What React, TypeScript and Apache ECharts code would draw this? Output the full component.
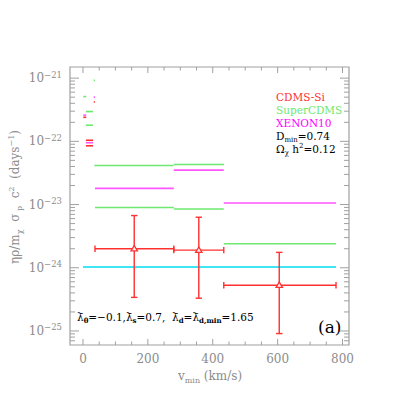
import React, { useEffect, useRef } from 'react';
import * as echarts from 'echarts';

// ---- axis ranges / ticks (physical units, days^-1) ----
const xRange = [-40, 820];
const yRange = [6e-26, 1.5e-21];
const xMajorTicks = [0, 200, 400, 600, 800];
const xMinorTicks = [50, 100, 150, 250, 300, 350, 450, 500, 550, 650, 700, 750];
const yDecadeExps = [-26, -25, -24, -23, -22, -21];
const yMinorMultipliers = [2, 3, 4, 5, 6, 7, 8, 9];

// ---- data ----
// CDMS-Si points: [vmin center, value, bin lo, bin hi, err lo, err hi]
const cdmsSiPoints = [
  [158, 2.0e-24, 37, 280, 3.4e-25, 6.7e-24],
  [357, 1.9e-24, 280, 434, 3.3e-25, 6.3e-24],
  [605, 5.3e-25, 434, 780, 9.1e-26, 1.75e-24],
];
// horizontal bin limits: [vmin lo, vmin hi, value]
const cdmsSiBins = [
  [33, 37, 4.2e-22],
  [1, 10, 2.4e-22],
  [9, 31, 1.04e-22],
  [9, 31, 8.5e-23],
];
const superCdmsBins = [
  [37, 280, 9.0e-24],
  [280, 434, 8.5e-24],
  [434, 780, 2.4e-24],
  [35, 279, 4.15e-23],
  [280, 435, 4.3e-23],
  [33, 37, 9.2e-22],
  [1, 10, 5.1e-22],
  [9, 31, 2.96e-22],
  [9, 31, 1.8e-22],
];
const xenon10Bins = [
  [37, 280, 1.8e-23],
  [280, 434, 3.5e-23],
  [434, 780, 1.06e-23],
  [33, 37, 5.0e-22],
  [1, 10, 2.6e-22],
  [9, 31, 9.5e-23],
];
const haloLine = [[0, 780, 1.03e-24]];

// ECharts' log scale loses precision for numbers this small, so values are
// handed to the axis in units of 1e-26 days^-1 and labels are converted back.
const UNIT_EXP = 26;
const U = Math.pow(10, UNIT_EXP);

const RED = '#ff3030';
const GREEN = '#6ee86e';
const MAGENTA = '#ff55ff';
const CYAN = '#00dcf0';
const GRAY = '#8c8c8c';
const FRAME = '#a0a0a0';
const SERIF = '"DejaVu Serif", serif';

function segSeries(name: string, data: number[][], color: string, width: number) {
  return {
    type: 'custom',
    name,
    silent: true,
    encode: { x: [0, 1], y: 2 },
    data: data.map((d) => [d[0], d[1], d[2] * U]),
    renderItem: (params: any, api: any) => {
      const p0 = api.coord([api.value(0), api.value(2)]);
      const p1 = api.coord([api.value(1), api.value(2)]);
      return {
        type: 'line',
        shape: { x1: p0[0], y1: p0[1], x2: p1[0], y2: p1[1] },
        style: { stroke: color, lineWidth: width },
      };
    },
  };
}

export default function App() {
  const ref = useRef<HTMLDivElement>(null);
  useEffect(() => {
    if (!ref.current) return;
    const chart = echarts.init(ref.current, undefined, { renderer: 'svg' });

    const yTickData: number[][] = [];
    yDecadeExps.forEach((e) => {
      const d = Math.pow(10, e);
      if (d > yRange[0] * 1.001 && d < yRange[1] * 0.999) yTickData.push([300, d * U, 9]);
      yMinorMultipliers.forEach((m) => {
        const v = m * d;
        if (v > yRange[0] * 1.001 && v < yRange[1] * 0.999) yTickData.push([300, v * U, 5]);
      });
    });
    const xTickData: number[][] = [
      ...xMajorTicks.map((v) => [v, 100, 6]),
      ...xMinorTicks.map((v) => [v, 100, 3.5]),
    ];

    const option: any = {
      animation: false,
      grid: {
        left: 70,
        right: 66,
        top: 67,
        bottom: 70,
        show: true,
        borderColor: FRAME,
        borderWidth: 1.2,
        backgroundColor: 'transparent',
        containLabel: false,
        outerBoundsMode: 'none',
      },
      xAxis: {
        type: 'value',
        min: xRange[0],
        max: xRange[1],
        axisLine: { show: false },
        axisTick: { show: false },
        splitLine: { show: false },
        axisLabel: {
          margin: 8,
          color: GRAY,
          fontFamily: SERIF,
          fontSize: 12,
          formatter: (v: number) => (Math.abs(v % 200) < 1e-6 && v >= 0 ? String(v) : ''),
        },
      },
      yAxis: {
        type: 'log',
        logBase: 10,
        min: yRange[0] * U,
        max: yRange[1] * U,
        axisLine: { show: false },
        axisTick: { show: false },
        splitLine: { show: false },
        axisLabel: {
          margin: 8,
          formatter: (v: number) => {
            const e = Math.log10(v);
            if (Math.abs(e - Math.round(e)) > 1e-6) return '';
            const ex = Math.round(e) - UNIT_EXP;
            return '{b|10}{s|' + (ex < 0 ? '\u2212' : '') + Math.abs(ex) + '}';
          },
          rich: {
            b: { fontFamily: SERIF, fontSize: 12, color: GRAY, lineHeight: 16 },
            s: { fontFamily: SERIF, fontSize: 8.5, color: GRAY, lineHeight: 9, verticalAlign: 'top' },
          },
        },
      },
      series: [
        {
          type: 'custom',
          silent: true,
          encode: { x: 0, y: 1 },
          data: yTickData,
          renderItem: (params: any, api: any) => {
            const cs = params.coordSys;
            const p = api.coord([api.value(0), api.value(1)]);
            const len = api.value(2);
            return {
              type: 'group',
              children: [
                { type: 'line', shape: { x1: cs.x, y1: p[1], x2: cs.x + len, y2: p[1] }, style: { stroke: FRAME, lineWidth: 1 } },
                { type: 'line', shape: { x1: cs.x + cs.width - len, y1: p[1], x2: cs.x + cs.width, y2: p[1] }, style: { stroke: FRAME, lineWidth: 1 } },
              ],
            };
          },
        },
        {
          type: 'custom',
          silent: true,
          encode: { x: 0, y: 1 },
          data: xTickData,
          renderItem: (params: any, api: any) => {
            const cs = params.coordSys;
            const p = api.coord([api.value(0), api.value(1)]);
            const len = api.value(2);
            return {
              type: 'group',
              children: [
                { type: 'line', shape: { x1: p[0], y1: cs.y + cs.height - len, x2: p[0], y2: cs.y + cs.height }, style: { stroke: FRAME, lineWidth: 1 } },
                { type: 'line', shape: { x1: p[0], y1: cs.y, x2: p[0], y2: cs.y + len }, style: { stroke: FRAME, lineWidth: 1 } },
              ],
            };
          },
        },
        segSeries('halo', haloLine, CYAN, 1.5),
        segSeries('SuperCDMS', superCdmsBins, GREEN, 1.6),
        segSeries('XENON10', xenon10Bins, MAGENTA, 1.6),
        segSeries('CDMS-Si bins', cdmsSiBins, RED, 1.6),
        {
          type: 'custom',
          name: 'CDMS-Si',
          silent: true,
          encode: { x: [0, 2, 3], y: [1, 4, 5] },
          data: cdmsSiPoints.map((d) => [d[0], d[1] * U, d[2], d[3], d[4] * U, d[5] * U]),
          renderItem: (params: any, api: any) => {
            const c = api.coord([api.value(0), api.value(1)]);
            const l = api.coord([api.value(2), api.value(1)]);
            const r = api.coord([api.value(3), api.value(1)]);
            const lo = api.coord([api.value(0), api.value(4)]);
            const hi = api.coord([api.value(0), api.value(5)]);
            const st = { stroke: RED, lineWidth: 1.4 };
            const cap = 3.2;
            return {
              type: 'group',
              children: [
                { type: 'line', shape: { x1: l[0], y1: l[1], x2: r[0], y2: r[1] }, style: st },
                { type: 'line', shape: { x1: l[0], y1: l[1] - cap, x2: l[0], y2: l[1] + cap }, style: st },
                { type: 'line', shape: { x1: r[0], y1: r[1] - cap, x2: r[0], y2: r[1] + cap }, style: st },
                { type: 'line', shape: { x1: c[0], y1: lo[1], x2: c[0], y2: hi[1] }, style: st },
                { type: 'line', shape: { x1: c[0] - cap, y1: lo[1], x2: c[0] + cap, y2: lo[1] }, style: st },
                { type: 'line', shape: { x1: c[0] - cap, y1: hi[1], x2: c[0] + cap, y2: hi[1] }, style: st },
                {
                  type: 'polygon',
                  shape: { points: [[c[0] - 3.2, c[1] + 2.2], [c[0] + 3.2, c[1] + 2.2], [c[0], c[1] - 3.2]] },
                  style: { stroke: RED, lineWidth: 1.3, fill: 'rgba(255,255,255,0.9)' },
                },
              ],
            };
          },
        },
      ],
      graphic: [
        { type: 'text', x: 276, y: 97, style: { text: 'CDMS-Si', fill: RED, fontFamily: SERIF, fontSize: 10.5, align: 'left', verticalAlign: 'middle' } },
        { type: 'text', x: 276, y: 110, style: { text: 'SuperCDMS', fill: GREEN, fontFamily: SERIF, fontSize: 10.5, align: 'left', verticalAlign: 'middle' } },
        { type: 'text', x: 276, y: 123, style: { text: 'XENON10', fill: '#ff00ff', fontFamily: SERIF, fontSize: 10.5, align: 'left', verticalAlign: 'middle' } },
        {
          type: 'text', x: 276, y: 136,
          style: {
            text: '{b|D}{s|min}{b|=0.74}', align: 'left', verticalAlign: 'middle',
            rich: {
              b: { fill: '#000', fontFamily: SERIF, fontSize: 10.5, lineHeight: 14 },
              s: { fill: '#000', fontFamily: SERIF, fontSize: 7, lineHeight: 7, verticalAlign: 'bottom' },
            },
          },
        },
        {
          type: 'text', x: 276, y: 149,
          style: {
            text: '{b|\u03A9}{s|\u03C7}{b| h}{p|2}{b|=0.12}', align: 'left', verticalAlign: 'middle',
            rich: {
              b: { fill: '#000', fontFamily: SERIF, fontSize: 10.5, lineHeight: 14 },
              s: { fill: '#000', fontFamily: SERIF, fontSize: 7, lineHeight: 7, verticalAlign: 'bottom' },
              p: { fill: '#000', fontFamily: SERIF, fontSize: 7, lineHeight: 7, verticalAlign: 'top' },
            },
          },
        },
        {
          type: 'text', x: 77, y: 317,
          style: {
            text: '{b|\u03BB\u0304}{s|\u03B8}{b|=\u22120.1,\u03BB\u0304}{s|s}{b|=0.7,  \u03BB\u0304}{s|d}{b|=\u03BB\u0304}{s|d,min}{b|=1.65}',
            align: 'left', verticalAlign: 'middle',
            rich: {
              b: { fill: '#000', fontFamily: SERIF, fontSize: 10.5, lineHeight: 14 },
              s: { fill: '#000', fontFamily: SERIF, fontSize: 7, lineHeight: 7, verticalAlign: 'bottom', fontWeight: 'bold' },
            },
          },
        },
        { type: 'text', x: 318, y: 327, style: { text: '(a)', fill: '#000', fontFamily: SERIF, fontSize: 17, align: 'left', verticalAlign: 'middle' } },
        {
          type: 'text', x: 210, y: 376,
          style: {
            text: '{b|v}{s|min}{b| (km/s)}', align: 'center', verticalAlign: 'middle',
            rich: {
              b: { fill: GRAY, fontFamily: SERIF, fontSize: 12, lineHeight: 16 },
              s: { fill: GRAY, fontFamily: SERIF, fontSize: 8, lineHeight: 8, verticalAlign: 'bottom' },
            },
          },
        },
        {
          type: 'text', x: 15, y: 197, rotation: Math.PI / 2,
          style: {
            text: '{b|\u03B7\u03C1/m}{s|\u03C7}{b|  \u03C3}{s| p}{b|  c}{p|2}{b|  (days}{p|\u22121}{b|)}',
            align: 'center', verticalAlign: 'middle',
            rich: {
              b: { fill: GRAY, fontFamily: SERIF, fontSize: 12, lineHeight: 16 },
              s: { fill: GRAY, fontFamily: SERIF, fontSize: 8, lineHeight: 8, verticalAlign: 'bottom' },
              p: { fill: GRAY, fontFamily: SERIF, fontSize: 8, lineHeight: 8, verticalAlign: 'top' },
            },
          },
        },
      ],
    };
    chart.setOption(option);
    return () => chart.dispose();
  }, []);
  return <div ref={ref} style={{ position: 'fixed', left: 0, top: 0, width: 415, height: 415, background: '#fff' }} />;
}
